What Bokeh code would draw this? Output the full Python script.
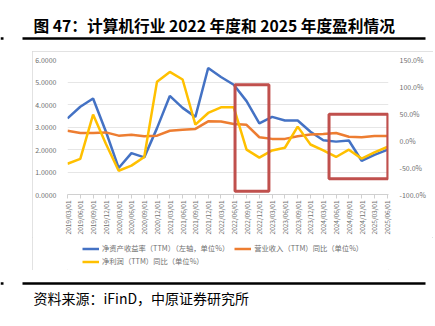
from bokeh.plotting import figure
from bokeh.models import (Range1d, LinearAxis, FixedTicker, BoxAnnotation,
                          Legend, LegendItem, Column)
from bokeh.core.properties import value
from bokeh.embed import file_html
from bokeh.resources import INLINE
import math

dates = ["2019/03/01", "2019/06/01", "2019/09/01", "2019/12/01",
         "2020/03/01", "2020/06/01", "2020/09/01", "2020/12/01",
         "2021/03/01", "2021/06/01", "2021/09/01", "2021/12/01",
         "2022/03/01", "2022/06/01", "2022/09/01", "2022/12/01",
         "2023/03/01", "2023/06/01", "2023/09/01", "2023/12/01",
         "2024/03/01", "2024/06/01", "2024/09/01", "2024/12/01",
         "2025/03/01", "2025/06/01"]
roe = [3.38, 3.90, 4.27, 2.80, 1.18, 1.84, 1.65, 2.95, 4.38, 3.85, 3.45, 5.62, 5.22,
       4.88, 4.15, 3.16, 3.45, 3.29, 3.29, 2.79, 2.41, 2.35, 2.40, 1.50, 1.76, 1.98]
revenue_yoy = [18.0, 14.0, 14.0, 15.0, 9.0, 10.5, 8.0, 9.0, 18.0, 20.0, 21.5, 35.5, 35.0,
               30.5, 29.0, 6.0, 3.0, 3.0, 8.0, 11.0, 12.0, 14.0, 7.0, 6.0, 8.5, 8.5]
profit_yoy = [-43.0, -34.0, 48.0, -6.0, -56.0, -46.5, -30.5, 109.0, 127.0, 113.0, 29.4, 51.0, 61.4,
              61.4, -17.0, -31.8, -18.4, -13.4, 25.7, -7.4, -18.4, -30.5, -17.0, -33.6, -22.0, -12.0]
left_ticks = [0, 1, 2, 3, 4, 5, 6]
right_ticks = [-100, -50, 0, 50, 100, 150]
# highlight boxes (x index, left-axis units): 2022 and 2025 periods
box1 = dict(left=13.1, right=15.75, bottom=0.15, top=4.88)
box2 = dict(left=20.45, right=25.05, bottom=0.70, top=3.57)

title_text = "图 47：计算机行业 2022 年度和 2025 年度盈利情况"
source_text = "资料来源：iFinD，中原证券研究所"
legend_labels = ["净资产收益率（TTM）（左轴，单位%）", "营业收入（TTM）同比（单位%）",
                 "净利润（TTM）同比（单位%）"]
colors = ["#4472c4", "#ed7d31", "#ffc000"]

FONT = "Noto Sans CJK SC"
GRAY = "#6e6e6e"
W = 435
BOX_X = 32           # left edge of bordered chart box on the page
BOX_W = 401
CH_H = 186           # chart figure height
LG_H = 33            # legend strip height
T_H = 51             # title strip height
S_H = 56             # source strip height


def blank(width, height, y0, y1):
    f = figure(width=width, height=height, output_backend="svg", toolbar_location=None,
               x_range=Range1d(0, width), y_range=Range1d(y0, y1),
               x_axis_type=None, y_axis_type=None, min_border=0)
    f.outline_line_color = None
    f.background_fill_color = "white"
    f.border_fill_color = "white"
    return f


# ---------- title strip ----------
pt = blank(W, T_H, T_H, 0)
pt.text(x=[33], y=[25], text=[title_text], text_font=value(FONT), text_font_size=value("15.7px"),
        text_font_style="bold", text_color="black", text_baseline="middle", text_align="left")
pt.segment(x0=[22, 0], y0=[38, 38], x1=[425, 3], y1=[38, 38], line_color="black", line_width=2.4)

# ---------- chart ----------
x = list(range(len(dates)))
p = figure(width=BOX_W, height=CH_H, output_backend="svg", toolbar_location=None,
           x_range=Range1d(0, 25.1), y_range=Range1d(0, 6),
           min_border_left=35, min_border_right=45, min_border_top=8,
           min_border_bottom=CH_H - 144)
p.outline_line_color = None
p.background_fill_color = "white"
p.border_fill_color = "white"
p.extra_y_ranges = {"pct": Range1d(-100, 150)}

ax = p.xaxis[0]
ax.ticker = FixedTicker(ticks=x)
ax.major_label_overrides = {i: d for i, d in enumerate(dates)}
ax.major_label_orientation = math.pi / 2
ax.major_label_text_font = FONT
ax.major_label_text_font_size = "6.5px"
ax.major_label_text_color = GRAY
ax.axis_line_color = "#d0d0d0"
ax.major_tick_line_color = "#d0d0d0"
ax.major_tick_out = 4
ax.major_tick_in = 0
ax.minor_tick_line_color = None
ax.major_label_standoff = 2

ay = p.yaxis[0]
ay.ticker = FixedTicker(ticks=left_ticks)
ay.major_label_overrides = {t: f"{t:.4f}" for t in left_ticks}
ay.axis_line_color = None
ay.major_tick_line_color = None
ay.minor_tick_line_color = None
ay.major_label_text_font = FONT
ay.major_label_text_font_size = "7px"
ay.major_label_text_color = GRAY
ay.major_label_standoff = 5

ry = LinearAxis(y_range_name="pct", ticker=FixedTicker(ticks=right_ticks))
ry.major_label_overrides = {t: f"{t:.1f}%" for t in right_ticks}
ry.axis_line_color = None
ry.major_tick_line_color = None
ry.minor_tick_line_color = None
ry.major_label_text_font = FONT
ry.major_label_text_font_size = "7px"
ry.major_label_text_color = GRAY
ry.major_label_standoff = 5
p.add_layout(ry, "right")

p.xgrid.grid_line_color = None
p.ygrid.ticker = FixedTicker(ticks=left_ticks)
p.ygrid.grid_line_color = "#e6e6e6"
p.ygrid.grid_line_width = 1

p.line(x, roe, line_color=colors[0], line_width=2.5)
p.line(x, revenue_yoy, line_color=colors[1], line_width=2.5, y_range_name="pct")
p.line(x, profit_yoy, line_color=colors[2], line_width=2.5, y_range_name="pct")

for b in (box1, box2):
    p.add_layout(BoxAnnotation(left=b["left"], right=b["right"], bottom=b["bottom"], top=b["top"],
                               fill_color=None, fill_alpha=0, line_color="#c0504d",
                               line_alpha=1, line_width=3))

# ---------- legend strip (proxy renderers carry the series styles) ----------
pl = blank(BOX_W, LG_H, 0, LG_H)
nan = float("nan")
lr = [pl.line([nan], [nan], line_color=c, line_width=2.5) for c in colors]


def make_legend(items, vx, vy, spacing):
    lg = Legend(items=items, orientation="horizontal", location=(vx, vy),
                background_fill_alpha=0, border_line_color=None,
                label_text_font=FONT, label_text_font_size="7.3px", label_text_color=GRAY,
                glyph_width=17, glyph_height=9, label_height=9, label_standoff=3,
                spacing=spacing, padding=0, margin=0)
    pl.add_layout(lg)


make_legend([LegendItem(label=legend_labels[0], renderers=[lr[0]]),
             LegendItem(label=legend_labels[1], renderers=[lr[1]])], 15, 17, 5)
make_legend([LegendItem(label=legend_labels[2], renderers=[lr[2]])], 15, 4, 5)

box = Column(children=[p, pl], spacing=0, margin=(0, 0, 0, BOX_X),
             styles={"outline": "1px solid #d9d9d9", "outline-offset": "-1px"})

# ---------- source strip ----------
ps = blank(W, S_H, S_H, 0)
ps.segment(x0=[22, 0], y0=[13, 13], x1=[425, 3], y1=[13, 13], line_color="black", line_width=2.4)
ps.text(x=[33], y=[27], text=[source_text], text_font=value(FONT), text_font_size=value("14px"),
        text_color="black", text_baseline="middle", text_align="left")

page = Column(children=[pt, box, ps], spacing=0)

open("out.html", "w").write(file_html(page, INLINE))
